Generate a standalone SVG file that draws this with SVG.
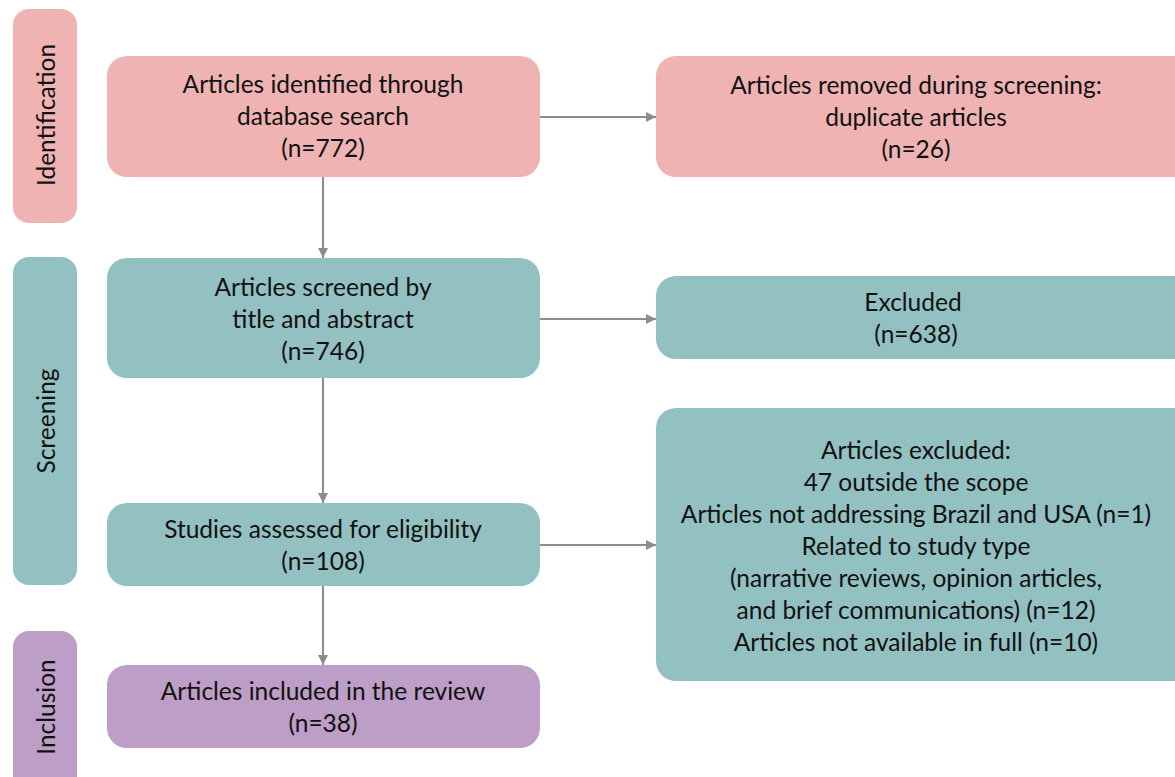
<svg xmlns="http://www.w3.org/2000/svg" width="1175" height="777" viewBox="0 0 1175 777">
<defs>
<style>
.t{font-family:Lato,"Open Sans","DejaVu Sans",sans-serif;font-size:24.5px;fill:#111;text-anchor:middle;dominant-baseline:central}
.pink{fill:#EFB3B3}
.teal{fill:#93C0C0}
.purp{fill:#BD9EC6}
.c{stroke:#8C8C8C;stroke-width:2;fill:none;marker-end:url(#ah)}
</style>
<marker id="ah" viewBox="0 0 10 10" refX="10" refY="5" markerWidth="5" markerHeight="5" orient="auto" markerUnits="strokeWidth"><path d="M0,0L10,5L0,10z" fill="#8C8C8C"/></marker>
</defs>
<rect width="1175" height="777" fill="#fff"/>
<g id="connectors">
<line class="c" x1="323" y1="177" x2="323" y2="258"/>
<line class="c" x1="323" y1="378" x2="323" y2="503"/>
<line class="c" x1="323" y1="586" x2="323" y2="665"/>
<line class="c" x1="540" y1="117" x2="656" y2="117"/>
<line class="c" x1="540" y1="319" x2="656" y2="319"/>
<line class="c" x1="540" y1="545" x2="656" y2="545"/>
</g>
<g id="phase-identification">
<rect class="pink" x="13" y="9" width="64" height="214" rx="16"/>
<text class="t" transform="translate(45,115) rotate(-90)">Identification</text>
</g>
<g id="phase-screening">
<rect class="teal" x="13" y="257" width="64" height="328" rx="16"/>
<text class="t" transform="translate(45,421) rotate(-90)">Screening</text>
</g>
<g id="phase-inclusion">
<rect class="purp" x="13" y="631" width="64" height="170" rx="16"/>
<text class="t" transform="translate(45,707) rotate(-90)">Inclusion</text>
</g>
<g id="identified">
<rect class="pink" x="107" y="56" width="433" height="121" rx="20"/>
<text class="t" x="323" y="83">Articles identified through</text>
<text class="t" x="323" y="115">database search</text>
<text class="t" x="323" y="147">(n=772)</text>
</g>
<g id="removed">
<rect class="pink" x="656" y="56" width="540" height="121" rx="20"/>
<text class="t" x="916" y="84">Articles removed during screening:</text>
<text class="t" x="916" y="116">duplicate articles</text>
<text class="t" x="916" y="148">(n=26)</text>
</g>
<g id="screened">
<rect class="teal" x="107" y="258" width="433" height="120" rx="20"/>
<text class="t" x="323" y="286">Articles screened by</text>
<text class="t" x="323" y="318">title and abstract</text>
<text class="t" x="323" y="350">(n=746)</text>
</g>
<g id="excluded">
<rect class="teal" x="656" y="276" width="540" height="83" rx="20"/>
<text class="t" x="913" y="301">Excluded</text>
<text class="t" x="916" y="333">(n=638)</text>
</g>
<g id="assessed">
<rect class="teal" x="107" y="503" width="433" height="83" rx="20"/>
<text class="t" x="323" y="528">Studies assessed for eligibility</text>
<text class="t" x="323" y="560">(n=108)</text>
</g>
<g id="excluded-details">
<rect class="teal" x="656" y="408" width="540" height="273" rx="20"/>
<text class="t" x="916" y="449">Articles excluded:</text>
<text class="t" x="916" y="481">47 outside the scope</text>
<text class="t" x="916" y="513">Articles not addressing Brazil and USA (n=1)</text>
<text class="t" x="916" y="545">Related to study type</text>
<text class="t" x="916" y="577">(narrative reviews, opinion articles,</text>
<text class="t" x="916" y="609">and brief communications) (n=12)</text>
<text class="t" x="916" y="641">Articles not available in full (n=10)</text>
</g>
<g id="included">
<rect class="purp" x="107" y="665" width="433" height="83" rx="20"/>
<text class="t" x="323" y="690">Articles included in the review</text>
<text class="t" x="323" y="722">(n=38)</text>
</g>
</svg>
